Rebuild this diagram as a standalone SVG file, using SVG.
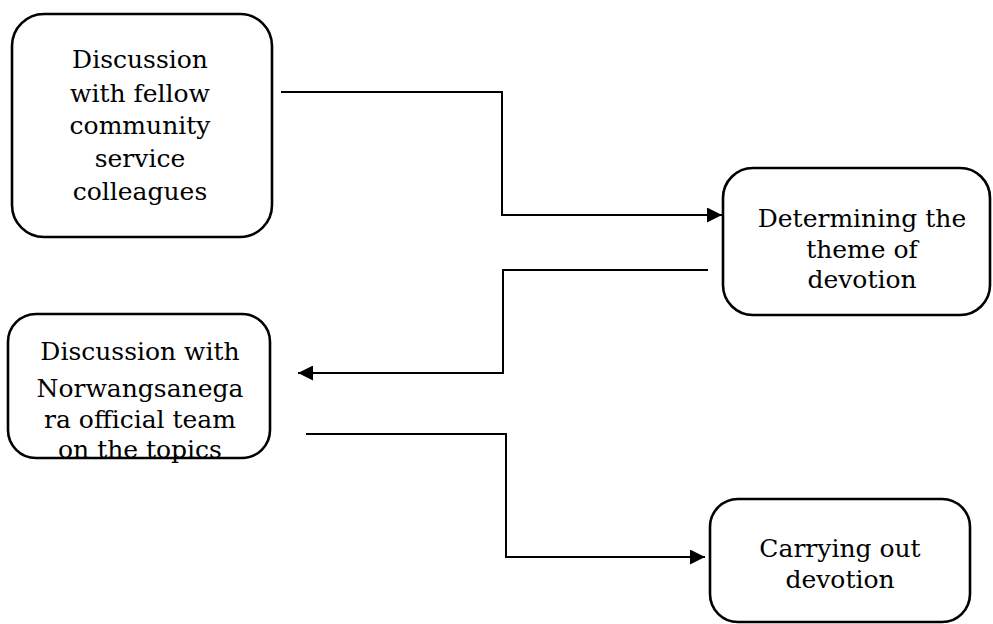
<svg xmlns="http://www.w3.org/2000/svg" width="993" height="624" viewBox="0 0 993 624">
<style>
.box{fill:#fff;stroke:#000;stroke-width:2.6}
.lbl{font-family:"DejaVu Serif","Liberation Serif",serif;font-size:25px;fill:#000;text-anchor:middle}
.con{fill:none;stroke:#000;stroke-width:2}
</style>
<defs>
<marker id="arr" viewBox="0 0 15 15" refX="15" refY="7.5" markerWidth="15" markerHeight="15" markerUnits="userSpaceOnUse" orient="auto">
<path d="M0,0 L15,7.5 L0,15 Z" fill="#000"/>
</marker>
</defs>
<g id="node1">
<rect class="box" x="12" y="14" width="260" height="223" rx="32"/>
<text class="lbl" x="140" y="68">Discussion</text>
<text class="lbl" x="140" y="102">with fellow</text>
<text class="lbl" x="140" y="134">community</text>
<text class="lbl" x="140" y="167">service</text>
<text class="lbl" x="140" y="200">colleagues</text>
</g>
<g id="node2">
<rect class="box" x="723" y="168" width="267" height="147" rx="30"/>
<text class="lbl" x="862" y="227">Determining the</text>
<text class="lbl" x="862" y="258">theme of</text>
<text class="lbl" x="862" y="288">devotion</text>
</g>
<g id="node3">
<rect class="box" x="8" y="314" width="262" height="144" rx="28"/>
<text class="lbl" x="140" y="360">Discussion with</text>
<text class="lbl" x="140" y="397">Norwangsanega</text>
<text class="lbl" x="140" y="428">ra official team</text>
<text class="lbl" x="140" y="458">on the topics</text>
</g>
<g id="node4">
<rect class="box" x="710" y="499" width="260" height="123" rx="28"/>
<text class="lbl" x="840" y="557">Carrying out</text>
<text class="lbl" x="840" y="588">devotion</text>
</g>
<g id="connectors">
<path class="con" d="M281,92 H502 V215 H722" marker-end="url(#arr)"/>
<path class="con" d="M708,270 H503 V373 H298" marker-end="url(#arr)"/>
<path class="con" d="M306,434 H506 V557 H705" marker-end="url(#arr)"/>
</g>
</svg>
